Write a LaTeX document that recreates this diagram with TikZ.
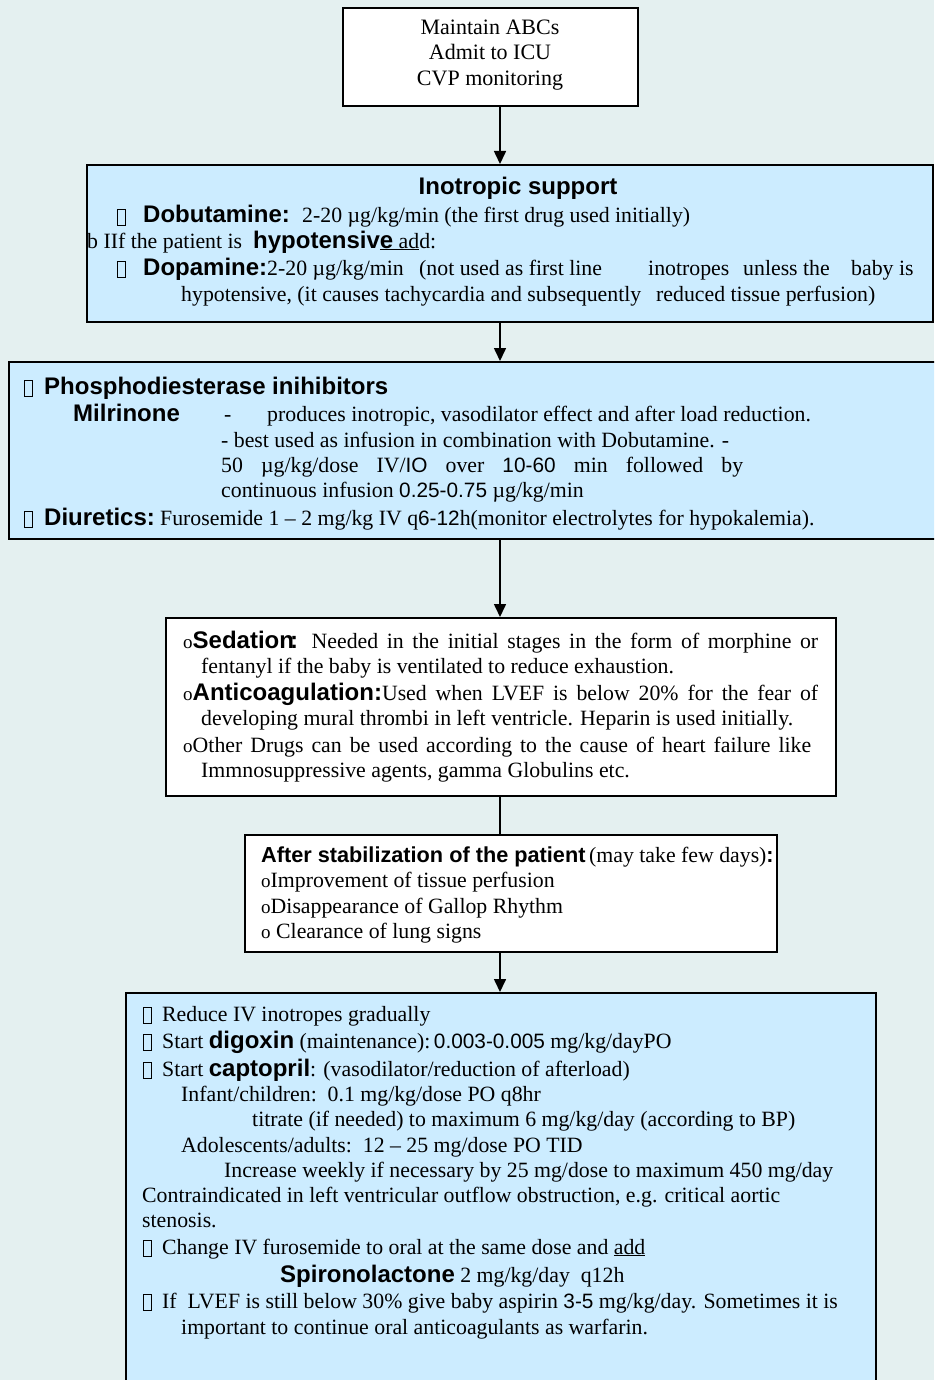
\documentclass[tikz,border=0pt]{standalone}
\usepackage{fontspec}
\setmainfont{Liberation Serif}
\newfontfamily\hvfont{Liberation Sans}
\usetikzlibrary{arrows.meta}
\definecolor{pagebg}{RGB}{228,240,240}
\definecolor{boxblue}{RGB}{204,236,255}
% bold sans headings, plain sans figures
\newcommand\hd[1]{{\hvfont\bfseries\fontsize{24}{28}\selectfont #1}}
\newcommand\hds[1]{{\hvfont\bfseries\fontsize{21.7}{26}\selectfont #1}}
\newcommand\sd[1]{{\hvfont\fontsize{20.8}{25}\selectfont #1}}
% empty glyph box used as bullet
\newcommand\tofu{\raisebox{-2pt}{\fboxsep=0pt\fboxrule=0.8pt\fbox{\rule{0pt}{15pt}\hspace{7pt}}}}
% small round bullet
\newcommand\ob{{\fontsize{19}{22}\selectfont o}}

\begin{document}
\begin{tikzpicture}[x=1pt,y=-1pt,
  box/.style={draw=black, line width=1.6pt, inner sep=0pt, anchor=north west},
  wbox/.style={box, fill=white},
  bbox/.style={box, fill=boxblue},
  txt/.style={anchor=base west, inner sep=0pt, font=\fontsize{21.8}{25}\selectfont},
  ctxt/.style={anchor=base, inner sep=0pt, font=\fontsize{22}{26}\selectfont},
  flow/.style={line width=1.6pt, -{Triangle[width=12pt,length=13pt]}},
  link/.style={line width=1.6pt}]
\fill[pagebg] (0,0) rectangle (934,1380);
\useasboundingbox (0,0) rectangle (934,1380);
\clip (0,0) rectangle (934,1380);

% boxes
\node[wbox, minimum width=295pt, minimum height=98pt]  (b1) at (342,7)   {};
\node[bbox, minimum width=846pt, minimum height=157pt] (b2) at (86,164)  {};
\node[bbox, minimum width=940pt, minimum height=177pt] (b3) at (8,361)   {};
\node[wbox, minimum width=670pt, minimum height=178pt] (b4) at (165,617) {};
\node[wbox, minimum width=532pt, minimum height=117pt] (b5) at (244,834) {};
\node[bbox, minimum width=750pt, minimum height=400pt] (b6) at (125,992) {};

% connectors on the common axis
\coordinate (ax) at (500,0);
\draw[flow] (b1.south -| ax) -- (b2.north -| ax);
\draw[flow] (b2.south -| ax) -- (b3.north -| ax);
\draw[flow] (b3.south -| ax) -- (b4.north -| ax);
\draw[link] (b4.south -| ax) -- (b5.north -| ax);
\draw[flow] (b5.south -| ax) -- (b6.north -| ax);

% box 1
\node[ctxt] (m1) at (490,35) {Maintain ABCs};
\node[ctxt] (m2) at (490,60) {Admit to ICU};
\node[ctxt] (m3) at (490,86) {CVP monitoring};

% box 2
\node[anchor=base, inner sep=0pt] (i0) at (518,195) {\hd{Inotropic support}};
\node[txt] (i1a) at (117,223) {\tofu};
\node[txt] (i1b) at (143,223) {\hd{Dobutamine:}};
\node[txt] (i1c) at (302,223) {2-20 µg/kg/min (the first drug used initially)};
\node[txt] (i2a) at (87,248) {b IIf the patient is};
\node[txt] (i2b) at (253,248) {\hd{hypotensiv\underline{e}}\underline{\ ad}d:};
\node[txt] (i3a) at (117,275) {\tofu};
\node[txt] (i3b) at (143,275) {\hd{Dopamine:}2-20 µg/kg/min};
\node[txt] (i3c) at (419,275) {(not used as first line};
\node[txt] (i3d) at (648,275) {inotropes};
\node[txt] (i3e) at (743,275) {unless the};
\node[txt] (i3f) at (851,275) {baby is};
\node[txt] (i4a) at (181,301) {hypotensive, (it causes tachycardia and subsequently};
\node[txt] (i4b) at (656,301) {reduced tissue perfusion)};

% box 3
\node[txt] (p1a) at (24,394) {\tofu};
\node[txt] (p1b) at (44,394) {\hd{Phosphodiesterase inihibitors}};
\node[txt] (p2a) at (73,421) {\hd{Milrinone}};
\node[txt] (p2b) at (224,421) {-};
\node[txt] (p2c) at (267,421) {produces inotropic, vasodilator effect and after load reduction.};
\node[txt] (p3) at (221,447) {- best used as infusion in combination with Dobutamine. -};
\node[txt] (p4) at (221,472) {\makebox[522pt][s]{50 µg/kg/dose IV/\sd{IO} over \sd{10-60} min followed by}};
\node[txt] (p5) at (221,497) {continuous infusion \sd{0.25-0.75} µg/kg/min};
\node[txt] (p6a) at (24,525) {\tofu};
\node[txt] (p6b) at (44,525) {\hd{Diuretics:}};
\node[txt] (p6c) at (160,525) {Furosemide 1 – 2 mg/kg IV q\sd{6-12}h(monitor electrolytes for hypokalemia).};

% box 4
\node[txt] (s1) at (183,648) {\makebox[635pt][s]{\ob\hd{Sedation}\kern-4pt\hd{:} Needed in the initial stages in the form of morphine or}};
\node[txt] (s2) at (201,673) {fentanyl if the baby is ventilated to reduce exhaustion.};
\node[txt] (s3) at (183,700) {\makebox[635pt][s]{\ob\hd{Anticoagulation:}Used when LVEF is below 20\% for the fear of}};
\node[txt] (s4) at (201,725) {developing mural thrombi in left ventricle. Heparin is used initially.};
\node[txt] (s5) at (183,752) {\makebox[628pt][s]{\ob Other Drugs can be used according to the cause of heart failure like}};
\node[txt] (s6) at (201,777) {Immnosuppressive agents, gamma Globulins etc.};

% box 5
\node[txt] (a1) at (261,862) {\hds{After stabilization of the patient}\,(may take few days)\hds{:}};
\node[txt] (a2) at (261,887) {\ob Improvement of tissue perfusion};
\node[txt] (a3) at (261,913) {\ob Disappearance of Gallop Rhythm};
\node[txt] (a4) at (261,938) {\ob{} Clearance of lung signs};

% box 6
\node[txt] (r1a) at (143,1021) {\tofu};
\node[txt] (r1b) at (162,1021) {Reduce IV inotropes gradually};
\node[txt] (r2a) at (143,1048) {\tofu};
\node[txt] (r2b) at (162,1048) {Start \hd{digoxin} (maintenance):\,\sd{0.003-0.005} mg/kg/dayPO};
\node[txt] (r3a) at (143,1076) {\tofu};
\node[txt] (r3b) at (162,1076) {Start \hd{captopril}: (vasodilator/reduction of afterload)};
\node[txt] (r4) at (181,1101) {Infant/children:\ \ 0.1 mg/kg/dose PO q8hr};
\node[txt] (r5) at (252,1126) {titrate (if needed) to maximum 6 mg/kg/day (according to BP)};
\node[txt] (r6) at (181,1152) {Adolescents/adults:\ \ 12 – 25 mg/dose PO TID};
\node[txt] (r7) at (224,1177) {Increase weekly if necessary by 25 mg/dose to maximum 450 mg/day};
\node[txt] (r8) at (142,1202) {Contraindicated in left ventricular outflow obstruction, e.g. critical aortic};
\node[txt] (r9) at (142,1227) {stenosis.};
\node[txt] (r10a) at (143,1254) {\tofu};
\node[txt] (r10b) at (162,1254) {Change IV furosemide to oral at the same dose and \underline{add}};
\node[txt] (r11) at (280,1282) {\hd{Spironolactone} 2 mg/kg/day\ \ q12h};
\node[txt] (r12a) at (143,1308) {\tofu};
\node[txt] (r12b) at (162,1308) {If\ \ LVEF is still below 30\% give baby aspirin \sd{3-5} mg/kg/day. Sometimes it is};
\node[txt] (r13) at (181,1334) {important to continue oral anticoagulants as warfarin.};
\end{tikzpicture}
\end{document}
